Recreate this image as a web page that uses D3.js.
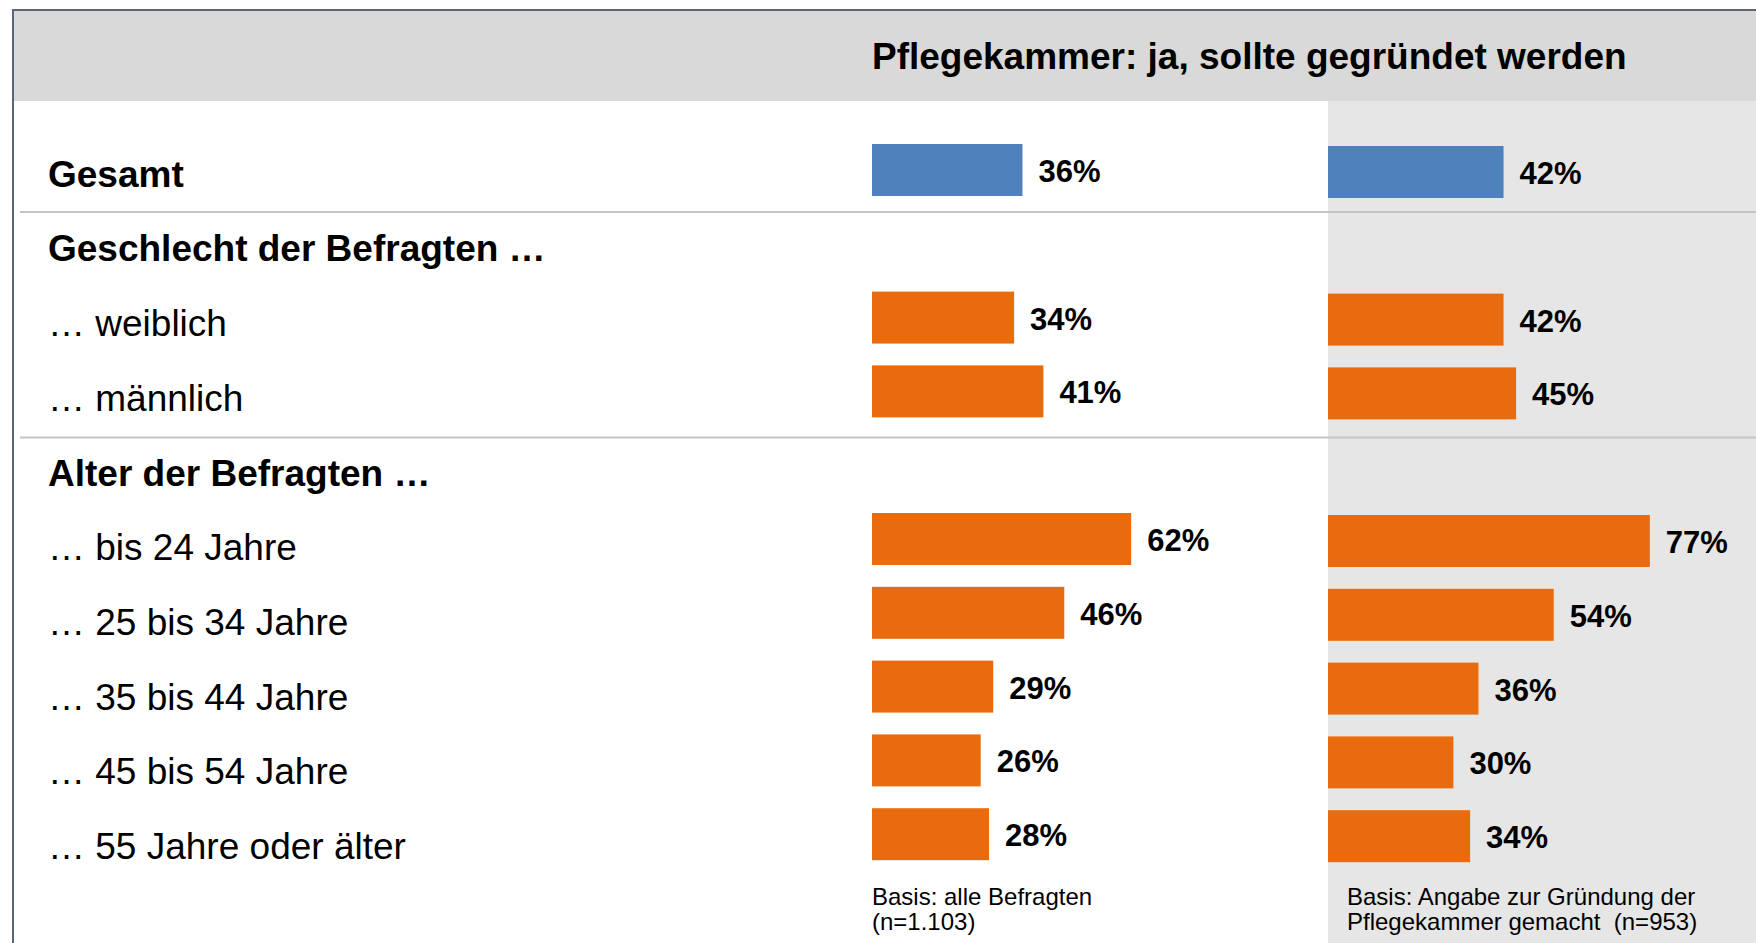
<!DOCTYPE html>
<html>
<head>
<meta charset="utf-8">
<script src="https://cdnjs.cloudflare.com/ajax/libs/d3/7.8.5/d3.min.js"></script>
<style>
  body { margin: 0; background: #fff; }
  svg { display: block; font-family: Arial, 'Liberation Sans', sans-serif; }
</style>
</head>
<body>
<div id="chart"></div>
<script>
// rows of the table, header rows have no values
let categories = ['Gesamt', 'Geschlecht der Befragten …', '… weiblich', '… männlich',
    'Alter der Befragten …', '… bis 24 Jahre', '… 25 bis 34 Jahre', '… 35 bis 44 Jahre',
    '… 45 bis 54 Jahre', '… 55 Jahre oder älter'];
let boldRows = ['Gesamt', 'Geschlecht der Befragten …', 'Alter der Befragten …'];
// Basis: alle Befragten
let valuesAll = [36, null, 34, 41, null, 62, 46, 29, 26, 28];
// Basis: Angabe zur Gruendung gemacht
let valuesStated = [42, null, 42, 45, null, 77, 54, 36, 30, 34];
let title = 'Pflegekammer: ja, sollte gegründet werden';
let notesAll = ['Basis: alle Befragten', '(n=1.103)'];
let notesStated = ['Basis: Angabe zur Gründung der', 'Pflegekammer gemacht  (n=953)'];

let width = 1756,
    height = 943,
    svg = d3.select('#chart').append('svg')
        .attr('width', width)
        .attr('height', height),
    left1 = 872,
    left2 = 1328,
    barH = 52,
    blue = '#4f81bd',
    orange = '#e96b0d';

let x = d3.scaleLinear().domain([0, 100]).range([0, 418]);
// bar centres and label baselines use slightly different steps
let y = d3.scalePoint().domain(categories).range([170, 170 + 9 * 73.8]);
let yLabel = d3.scalePoint().domain(categories).range([186.8, 859]);

// backgrounds
svg.append('rect').attr('x', left2).attr('y', 101)
    .attr('width', width - left2).attr('height', height - 101).attr('fill', '#e6e6e6');
svg.append('rect').attr('x', 13).attr('y', 10)
    .attr('width', width - 13).attr('height', 91).attr('fill', '#d9d9d9');

// frame top + left
svg.append('path')
    .attr('d', 'M' + width + ',10 H13 V' + height)
    .attr('fill', 'none').attr('stroke', '#5b6673').attr('stroke-width', 2);

svg.append('text')
    .attr('x', left1).attr('y', 69)
    .attr('font-size', 37).attr('font-weight', 'bold')
    .text(title);

// separators below Gesamt and männlich
svg.selectAll('line.sep')
    .data(['Gesamt', '… männlich'])
    .enter().append('line')
    .attr('class', 'sep')
    .attr('x1', 20).attr('x2', width)
    .attr('y1', (d, i) => y(d) + 42 + i * 4)
    .attr('y2', (d, i) => y(d) + 42 + i * 4)
    .style('stroke', '#c4c4c4')
    .style('stroke-width', '2px');

// row labels
svg.selectAll('text.lbl')
    .data(categories)
    .enter().append('text')
    .attr('class', 'lbl')
    .attr('x', 48)
    .attr('y', (d) => yLabel(d))
    .attr('font-size', 37)
    .attr('font-weight', (d) => boldRows.includes(d) ? 'bold' : 'normal')
    .text((d) => d);

let drawBars = (values, x0, dy) => {
    let rows = categories.map((c, i) => [c, values[i]]).filter((d) => d[1] !== null);
    let grp = svg.append('g');
    grp.selectAll('rect')
        .data(rows)
        .enter().append('rect')
        .attr('x', x0)
        .attr('y', (d) => y(d[0]) - barH / 2 + dy)
        .attr('width', (d) => x(d[1]))
        .attr('height', barH)
        .attr('fill', (d) => d[0] === 'Gesamt' ? blue : orange);
    grp.selectAll('text')
        .data(rows)
        .enter().append('text')
        .attr('x', (d) => x0 + x(d[1]) + 16)
        .attr('y', (d) => y(d[0]) + 12 + dy)
        .attr('font-size', 31)
        .attr('font-weight', 'bold')
        .text((d) => d[1] + '%');
};

drawBars(valuesAll, left1, 0);
drawBars(valuesStated, left2, 2);

// footnotes
let drawNote = (lines, x0) => {
    svg.append('g').selectAll('text')
        .data(lines)
        .enter().append('text')
        .attr('x', x0)
        .attr('y', (d, i) => 905 + i * 24.5)
        .attr('font-size', 24)
        .style('white-space', 'pre')
        .text((d) => d);
};
drawNote(notesAll, left1);
drawNote(notesStated, 1347);
</script>
</body>
</html>
